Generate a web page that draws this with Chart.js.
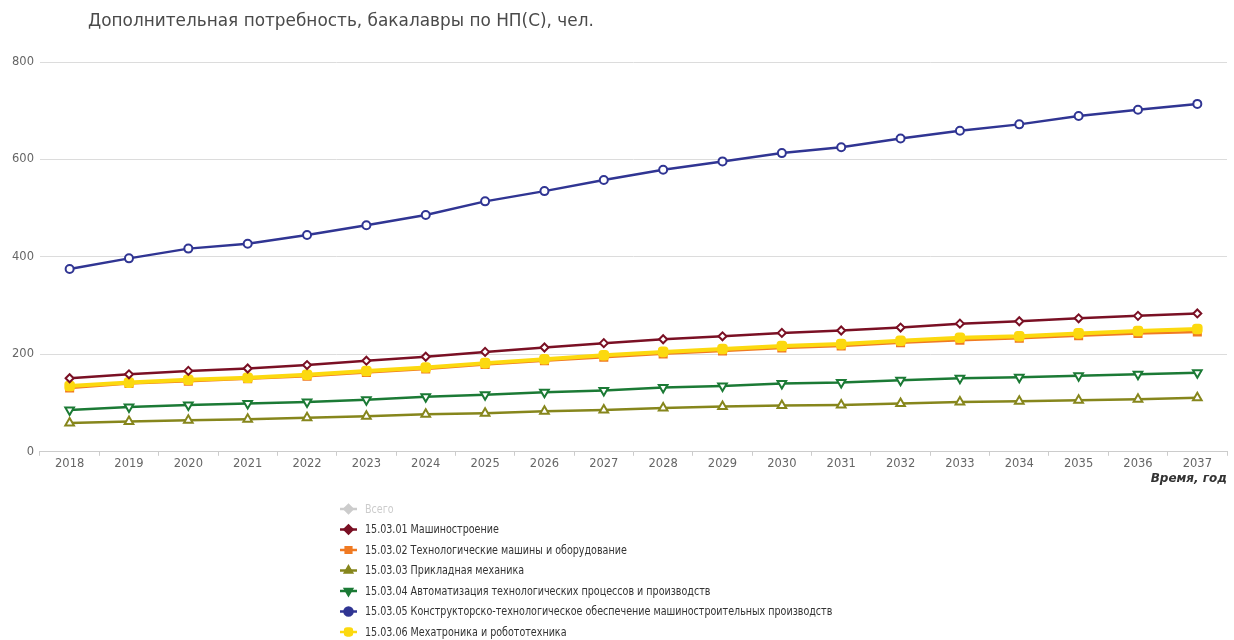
<!DOCTYPE html>
<html>
<head>
<meta charset="utf-8">
<script src="https://cdn.jsdelivr.net/npm/chart.js@4/dist/chart.umd.min.js"></script>
<style>
  html, body { margin: 0; padding: 0; background: #fff; }
  #wrap { width: 1234px; height: 640px; position: relative; }
</style>
</head>
<body>
<div id="wrap"><canvas id="needChart"></canvas></div>
<script>
// years on x axis
const years = ['2018', '2019', '2020', '2021', '2022', '2023', '2024', '2025', '2026', '2027',
               '2028', '2029', '2030', '2031', '2032', '2033', '2034', '2035', '2036', '2037'];

const yTicks = [0, 200, 400, 600, 800];

// values
const total = []; // "Всего" is switched off in the original
const mech01 = [151, 159, 166, 171, 178, 187, 195, 205, 214, 223, 231, 237, 244, 249, 255, 263, 268, 274, 279, 284];
const tech02 = [131, 140, 145, 150, 155, 163, 170, 179, 187, 194, 201, 207, 213, 217, 224, 229, 233, 238, 243, 246];
const appl03 = [59, 62, 65, 67, 70, 73, 77, 79, 83, 86, 90, 93, 95, 96, 99, 102, 104, 106, 108, 111];
const auto04 = [86, 92, 96, 99, 102, 107, 113, 117, 122, 126, 132, 135, 140, 142, 147, 151, 153, 156, 159, 162];
const design05 = [375, 397, 417, 427, 445, 465, 486, 514, 535, 558, 579, 596, 613, 625, 643, 659, 672, 689, 702, 714];
const mecha06 = [135, 142, 148, 152, 158, 166, 173, 182, 190, 198, 205, 211, 217, 221, 228, 234, 237, 243, 248, 252];

const chartTitle = 'Дополнительная потребность, бакалавры по НП(С), чел.';
const xTitle = 'Время, год';

function series(label, data, color, style, opts) {
    return Object.assign({
        label: label,
        data: data,
        borderColor: color,
        backgroundColor: color,
        borderWidth: 2.5,
        pointStyle: style,
        pointRadius: 4,
        pointBorderWidth: 2,
        pointBackgroundColor: '#fff',
        pointBorderColor: color,
        tension: 0
    }, opts || {});
}

const datasets = [
    series('Всего', total, '#c8c8c8', 'rectRot', { hidden: true }),
    series('15.03.01 Машиностроение', mech01, '#7a1024', 'rectRot', { pointRadius: 4 }),
    series('15.03.02 Технологические машины и оборудование', tech02, '#f07a22', 'rect',
        { pointBackgroundColor: '#f07a22', pointRadius: 5, order: 2 }),
    series('15.03.03 Прикладная механика', appl03, '#86861c', 'triangle', { pointRadius: 5 }),
    series('15.03.04 Автоматизация технологических процессов и производств', auto04, '#1b7a35', 'triangle',
        { pointRotation: 180, pointRadius: 5 }),
    series('15.03.05 Конструкторско-технологическое обеспечение машиностроительных производств', design05,
        '#303593', 'circle'),
    series('15.03.06 Мехатроника и робототехника', mecha06, '#fcd90f', 'rectRounded',
        { pointBackgroundColor: '#fcd90f', pointRadius: 5, borderWidth: 4, order: 1 })
];

// title + vertical legend under the plot, drawn on the canvas
const sideText = {
    id: 'sideText',
    afterDraw(chart) {
        const ctx = chart.ctx;
        ctx.save();
        ctx.font = '16.9px "DejaVu Sans"';
        ctx.fillStyle = '#4a4a4a';
        ctx.textBaseline = 'middle';
        ctx.textAlign = 'left';
        ctx.fillText(chartTitle, 88, 22);

        ctx.font = '12px "DejaVu Sans Condensed", "DejaVu Sans"';
        chart.data.datasets.forEach((ds, i) => {
            const y = 509 + i * 20.5;
            const x = 340;
            const off = !chart.isDatasetVisible(i);
            const col = off ? '#cccccc' : ds.borderColor;
            ctx.strokeStyle = col;
            ctx.lineWidth = 2.5;
            ctx.beginPath();
            ctx.moveTo(x, y);
            ctx.lineTo(x + 17, y);
            ctx.stroke();
            ctx.fillStyle = col;
            Chart.helpers.drawPoint(ctx, {
                pointStyle: ds.pointStyle,
                rotation: ds.pointRotation || 0,
                radius: 4,
                borderWidth: 1
            }, x + 8.5, y);
            // the original legend font is narrower than anything installed
            ctx.save();
            ctx.translate(x + 25, y + 0.5);
            ctx.scale(0.886, 1);
            ctx.fillStyle = off ? '#cccccc' : '#333';
            ctx.fillText(ds.label, 0, 0);
            ctx.restore();
        });
        ctx.restore();
    }
};

new Chart(document.getElementById('needChart'), {
    type: 'line',
    data: { labels: years, datasets: datasets },
    options: {
        responsive: true,
        maintainAspectRatio: false,
        animation: false,
        layout: { padding: { top: 62, left: 6, right: 2, bottom: 154 } },
        plugins: {
            legend: { display: false },
            title: { display: false },
            tooltip: { enabled: false }
        },
        scales: {
            x: {
                offset: true,
                grid: {
                    offset: true,
                    drawOnChartArea: false,
                    drawTicks: true,
                    tickLength: 4,
                    tickColor: '#cccccc'
                },
                border: { display: true, color: '#cccccc' },
                ticks: { color: '#666', font: { family: 'DejaVu Sans', size: 11.5 }, padding: 1 },
                title: {
                    display: true,
                    text: xTitle,
                    align: 'end',
                    color: '#333',
                    font: { family: 'DejaVu Sans', size: 12, weight: 'bold', style: 'italic' },
                    padding: { top: 0, bottom: 0 }
                }
            },
            y: {
                min: 0,
                max: 800,
                afterBuildTicks: (axis) => { axis.ticks = yTicks.map(v => ({ value: v })); },
                grid: { color: '#dcdcdc', drawTicks: false },
                border: { display: false },
                ticks: { color: '#666', font: { family: 'DejaVu Sans', size: 11.5 }, padding: 6 }
            }
        }
    },
    plugins: [sideText]
});
</script>
</body>
</html>
